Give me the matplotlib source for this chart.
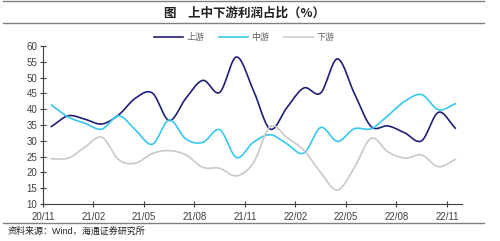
import numpy as np
import matplotlib
matplotlib.use("Agg")
from matplotlib import pyplot as plt
from matplotlib.lines import Line2D

plt.rcParams['font.family'] = ['Liberation Sans', 'Noto Sans CJK SC', 'DejaVu Sans']

# monthly data, 2020/11 .. 2022/11
months = ['20/11', '20/12', '21/01', '21/02', '21/03', '21/04', '21/05', '21/06', '21/07',
          '21/08', '21/09', '21/10', '21/11', '21/12', '22/01', '22/02', '22/03', '22/04',
          '22/05', '22/06', '22/07', '22/08', '22/09', '22/10', '22/11']
upstream = [34.5, 37.9, 36.8, 35.3, 38.2, 43.5, 45.1, 36.4, 43.5, 49.1, 45.3, 56.5, 46.0,
            33.7, 40.5, 46.7, 45.1, 55.9, 45.0, 34.5, 34.7, 32.5, 30.0, 39.0, 34.0]
midstream = [41.3, 37.5, 35.5, 33.7, 37.9, 33.4, 28.9, 36.6, 30.5, 29.5, 33.5, 24.7, 29.5,
             31.9, 29.0, 26.1, 34.2, 29.8, 33.8, 33.8, 38.0, 42.5, 44.6, 39.8, 41.7]
downstream = [24.3, 24.5, 28.0, 31.1, 24.0, 22.9, 26.0, 26.9, 25.5, 21.6, 21.3, 18.9, 23.0,
              34.5, 31.0, 27.0, 20.0, 14.4, 21.5, 30.8, 26.5, 24.5, 25.5, 21.8, 24.1]
labels = ['上游', '中游', '下游']
colors = ['#1f1f78', '#36c8ee', '#c9c9c9']
tick_labels = months[::3]


def smooth(x, y, n=20):
    # catmull-rom spline through the points (like excel's smoothed line)
    x = np.asarray(x, float)
    y = np.asarray(y, float)
    px = np.concatenate([[2 * x[0] - x[1]], x, [2 * x[-1] - x[-2]]])
    py = np.concatenate([[2 * y[0] - y[1]], y, [2 * y[-1] - y[-2]]])
    t = np.linspace(0, 1, n, endpoint=False)
    xs, ys = [], []
    for i in range(1, len(px) - 2):
        for p, out in ((px, xs), (py, ys)):
            p0, p1, p2, p3 = p[i - 1], p[i], p[i + 1], p[i + 2]
            out.extend(0.5 * (2 * p1 + (-p0 + p2) * t + (2 * p0 - 5 * p1 + 4 * p2 - p3) * t ** 2
                              + (-p0 + 3 * p1 - 3 * p2 + p3) * t ** 3))
    xs.append(x[-1])
    ys.append(y[-1])
    return np.array(xs), np.array(ys)


fig = plt.figure(figsize=(5, 2.41), dpi=100)
ax = fig.add_axes([0.086, 0.1535, 0.838, 0.656])

pos = np.arange(len(months)) + 0.5
for vals, lab, c in zip([upstream, midstream, downstream], labels, colors):
    sx, sy = smooth(pos, vals)
    ax.plot(sx, sy, color=c, lw=1.2, label=lab)

ax.set_xlim(0, 24.9)
ax.set_ylim(10, 60)
ax.set_yticks(np.arange(10, 61, 5))
ax.set_xticks(np.arange(0, len(months), 3))
ax.set_xticklabels(tick_labels)
for s in ['top', 'right']:
    ax.spines[s].set_visible(False)
for s in ['left', 'bottom']:
    ax.spines[s].set_color('#404040')
    ax.spines[s].set_linewidth(0.8)
ax.tick_params(direction='inout', length=4, width=0.8, color='#404040',
               labelsize=7, labelcolor='#404040', pad=2)
ax.tick_params(axis='x', pad=4)

ax.legend(loc='center', bbox_to_anchor=(0.48, 1.055), ncol=3, frameon=False,
          fontsize=6.5, handlelength=3.2, columnspacing=1.6, handletextpad=0.4,
          labelcolor='#606060')

fig.text(0.49, 0.945, '图    上中下游利润占比（%）', ha='center', va='center',
         fontsize=9, fontweight='bold', family=['Noto Sans CJK SC'], color='#202020')
fig.text(0.016, 0.04, '资料来源：Wind，海通证券研究所', ha='left', va='center',
         fontsize=6.5, family=['Liberation Sans', 'Noto Sans CJK SC'], color='#202020')

for yy in [240 / 241, 218 / 241, 18 / 241]:
    fig.add_artist(Line2D([0.006, 0.968], [yy, yy], color='#808080', lw=1.0,
                          transform=fig.transFigure))

fig.savefig('out.png', dpi=100)
